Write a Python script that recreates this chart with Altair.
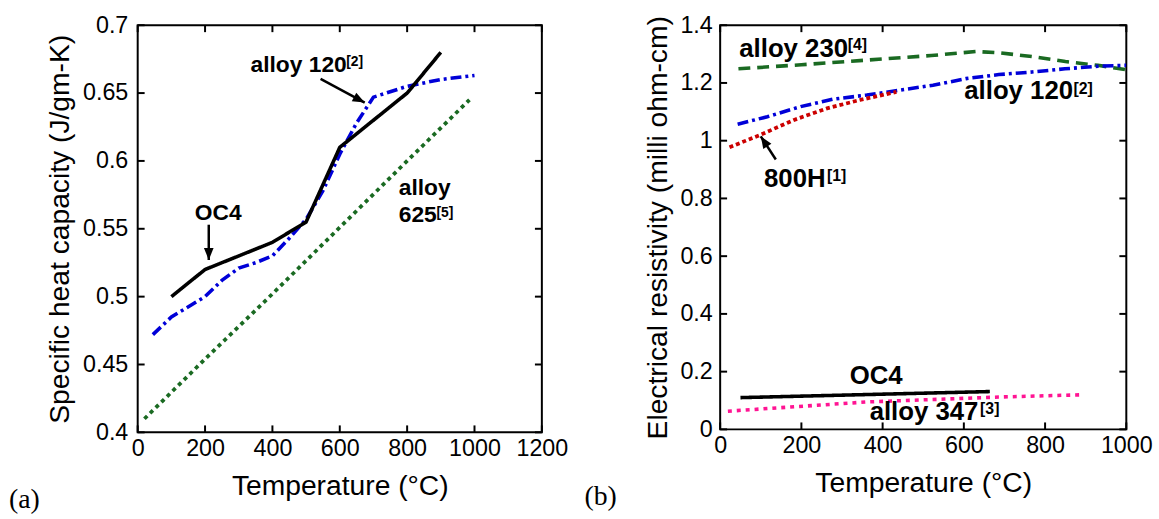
import altair as alt
import pandas as pd

FONT = "Liberation Sans"

# ---------------- Panel (a): specific heat capacity ----------------
a_oc4_t = [100, 200, 400, 500, 600, 800, 900]
a_oc4_v = [0.500, 0.520, 0.540, 0.555, 0.610, 0.650, 0.680]
a_120_t = [45, 100, 200, 250, 300, 350, 400, 450, 500, 550, 600, 650, 700, 800, 900, 1000]
a_120_v = [0.472, 0.485, 0.500, 0.512, 0.521, 0.525, 0.530, 0.543, 0.557, 0.578, 0.605, 0.628, 0.647, 0.655, 0.660, 0.663]
a_625_t = [20, 200, 400, 600, 800, 985]
a_625_v = [0.410, 0.454, 0.502, 0.551, 0.600, 0.645]

a_xticks = [0, 200, 400, 600, 800, 1000, 1200]
a_yticks = [0.4, 0.45, 0.5, 0.55, 0.6, 0.65, 0.7]

a_lab_text = ["OC4", "alloy 120", "alloy", "625"]
a_lab_t = [239, 335, 775, 775]
a_lab_v = [0.5566, 0.6654, 0.575, 0.5553]
a_lab_align = ["center", "left", "left", "left"]
a_sup_text = ["[2]", "[5]"]
a_sup_t = [619, 887]
a_sup_v = [0.6696, 0.5588]

# arrows: tail -> tip
a_arr_t0 = [211, 543]
a_arr_v0 = [0.553, 0.6605]
a_arr_t1 = [211, 674]
a_arr_v1 = [0.527, 0.643]
a_arr_angle = [180, 118]

# ---------------- Panel (b): electrical resistivity ----------------
b_230_t = [45, 200, 400, 520, 630, 690, 770, 850, 930, 1000]
b_230_v = [1.249, 1.263, 1.283, 1.295, 1.309, 1.304, 1.291, 1.274, 1.261, 1.246]
b_120_t = [43, 116, 198, 279, 361, 442, 524, 605, 686, 768, 849, 930, 1000]
b_120_v = [1.057, 1.083, 1.118, 1.144, 1.158, 1.175, 1.192, 1.215, 1.229, 1.238, 1.249, 1.258, 1.261]
b_800_t = [23, 100, 182, 263, 344, 434]
b_800_v = [0.977, 1.021, 1.072, 1.112, 1.141, 1.169]
b_oc4_t = [50, 664]
b_oc4_v = [0.110, 0.131]
b_347_t = [19, 361, 686, 894]
b_347_v = [0.063, 0.095, 0.112, 0.120]

b_xticks = [0, 200, 400, 600, 800, 1000]
b_yticks = [0, 0.2, 0.4, 0.6, 0.8, 1.0, 1.2, 1.4]

b_lab_text = ["alloy 230", "alloy 120", "800H", "OC4", "alloy 347"]
b_lab_t = [47, 601, 108, 384, 368]
b_lab_v = [1.291, 1.143, 0.838, 0.158, 0.032]
b_lab_align = ["left", "left", "left", "center", "left"]
b_sup_text = ["[4]", "[2]", "[1]", "[3]"]
b_sup_t = [314, 870, 263, 640]
b_sup_v = [1.314, 1.162, 0.859, 0.054]

b_arr_t0 = [137]
b_arr_v0 = [0.935]
b_arr_t1 = [100]
b_arr_v1 = [1.015]
b_arr_angle = [327]

ARROW = "M0,0 L0.5,1.25 L-0.5,1.25 Z"
TICK_LEN = 7


def panel(w, h, xdom, ydom, xticks, yticks, ytitle, yfmt, series, labs, sups, arrows,
          tag, tag_dx, ylabpad, ytitlepad, lab_size, sup_size):
    xs = alt.Scale(domain=xdom, nice=False, zero=False)
    ys = alt.Scale(domain=ydom, nice=False, zero=False)
    X = alt.X("t:Q", scale=xs, title="Temperature (°C)",
              axis=alt.Axis(values=xticks, format="d", tickSize=0, domain=False, grid=False,
                            labelFontSize=23.5, labelPadding=4, labelFont=FONT, labelColor="black",
                            titleFont=FONT, titleFontSize=28.5, titleFontWeight="normal",
                            titleColor="black", titlePadding=12, labelFlush=False))
    Y = alt.Y("v:Q", scale=ys, title=ytitle,
              axis=alt.Axis(values=yticks, format=yfmt, tickSize=0, domain=False, grid=False,
                            labelFontSize=23.5, labelPadding=ylabpad, labelFont=FONT, labelColor="black",
                            titleFont=FONT, titleFontSize=28.5, titleFontWeight="normal",
                            titleColor="black", titlePadding=ytitlepad, labelFlush=False))
    layers = []
    for t, v, color, dash, sw in series:
        df = pd.DataFrame({"t": t, "v": v})
        m = alt.Chart(df).mark_line(color=color, strokeWidth=sw, clip=True,
                                    strokeDash=dash if dash else [1, 0])
        layers.append(m.encode(x=X, y=Y))
    # inward ticks on four sides
    dxt = pd.DataFrame({"t": xticks})
    dyt = pd.DataFrame({"v": yticks})
    layers.append(alt.Chart(dxt).mark_rule(color="black", strokeWidth=2).encode(
        x=X, y=alt.value(h), y2=alt.value(h - TICK_LEN)))
    layers.append(alt.Chart(dxt).mark_rule(color="black", strokeWidth=2).encode(
        x=X, y=alt.value(0), y2=alt.value(TICK_LEN)))
    layers.append(alt.Chart(dyt).mark_rule(color="black", strokeWidth=2).encode(
        y=Y, x=alt.value(0), x2=alt.value(TICK_LEN)))
    layers.append(alt.Chart(dyt).mark_rule(color="black", strokeWidth=2).encode(
        y=Y, x=alt.value(w), x2=alt.value(w - TICK_LEN)))
    # labels
    txt, lt, lv, al = labs
    for i in range(len(txt)):
        d = pd.DataFrame({"t": [lt[i]], "v": [lv[i]], "s": [txt[i]]})
        layers.append(alt.Chart(d).mark_text(font=FONT, fontSize=lab_size, fontWeight="bold",
                                             align=al[i], baseline="alphabetic", color="black")
                      .encode(x=X, y=Y, text="s:N"))
    stxt, st, sv = sups
    d = pd.DataFrame({"t": st, "v": sv, "s": stxt})
    layers.append(alt.Chart(d).mark_text(font=FONT, fontSize=sup_size, fontWeight="bold",
                                         align="left", baseline="alphabetic", color="black")
                  .encode(x=X, y=Y, text="s:N"))
    # arrows
    t0, v0, t1, v1, ang = arrows
    seg = pd.DataFrame({"t": t0, "v": v0, "t2": t1, "v2": v1})
    layers.append(alt.Chart(seg).mark_rule(color="black", strokeWidth=2.5).encode(
        x=X, y=Y, x2="t2:Q", y2="v2:Q"))
    for i in range(len(t1)):
        hd = pd.DataFrame({"t": [t1[i]], "v": [v1[i]]})
        layers.append(alt.Chart(hd).mark_point(shape=ARROW, size=380, filled=True, color="black",
                                               opacity=1, angle=ang[i], strokeWidth=0)
                      .encode(x=X, y=Y))
    # panel tag
    layers.append(alt.Chart(pd.DataFrame({"s": [tag]})).mark_text(
        font="Liberation Serif", fontSize=28, align="left", baseline="alphabetic", color="black")
        .encode(text="s:N", x=alt.value(tag_dx), y=alt.value(h + 76)))
    return alt.layer(*layers).properties(width=w, height=h)


BLACK = "#000000"
BLUE = "#0000d8"
GREEN = "#1a6a22"
RED = "#cc0000"
PINK = "#ff1493"

left = panel(
    408, 411, [0, 1200], [0.4, 0.7], a_xticks, a_yticks,
    "Specific heat capacity (J/gm-K)", "~g",
    [(a_625_t, a_625_v, GREEN, [4, 4], 3.8),
     (a_120_t, a_120_v, BLUE, [11, 4, 3, 4], 3.6),
     (a_oc4_t, a_oc4_v, BLACK, None, 3.6)],
    (a_lab_text, a_lab_t, a_lab_v, a_lab_align),
    (a_sup_text, a_sup_t, a_sup_v),
    (a_arr_t0, a_arr_v0, a_arr_t1, a_arr_v1, a_arr_angle),
    "(a)", -130, 10, 8, 23, 14)

right = panel(
    410, 408, [0, 1000], [0, 1.4], b_xticks, b_yticks,
    "Electrical resistivity (milli ohm-cm)", "~g",
    [(b_230_t, b_230_v, GREEN, [12, 7], 3.6),
     (b_120_t, b_120_v, BLUE, [11, 4, 3, 4], 3.6),
     (b_800_t, b_800_v, RED, [4, 3], 3.8),
     (b_347_t, b_347_v, PINK, [4, 5], 3.6),
     (b_oc4_t, b_oc4_v, BLACK, None, 3.6)],
    (b_lab_text, b_lab_t, b_lab_v, b_lab_align),
    (b_sup_text, b_sup_t, b_sup_v),
    (b_arr_t0, b_arr_v0, b_arr_t1, b_arr_v1, b_arr_angle),
    "(b)", -137, 8, 8, 26, 16)

chart = alt.hconcat(left, right, spacing=14).properties(
    padding={"left": 8, "top": 10, "right": 5, "bottom": 0},
    background="white",
).configure_view(stroke="black", strokeWidth=2)

chart.save("out.html", embed_options={"renderer": "svg", "actions": False})
